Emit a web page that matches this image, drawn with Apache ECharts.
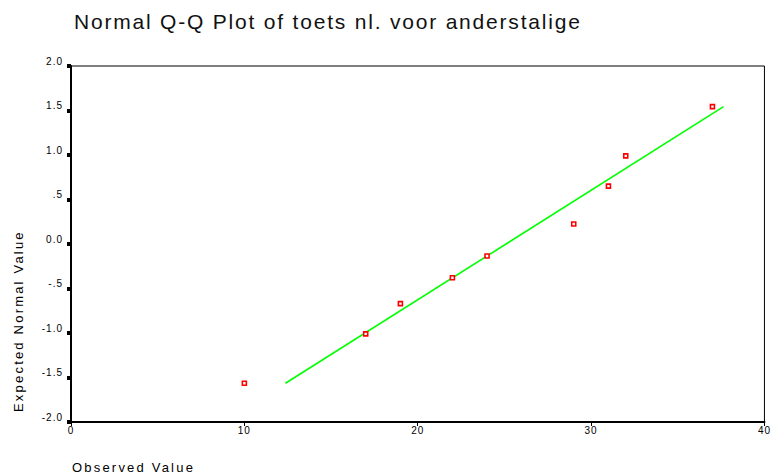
<!DOCTYPE html>
<html><head><meta charset="utf-8">
<script src="https://cdn.jsdelivr.net/npm/echarts@6/dist/echarts.min.js"></script>
<style>html,body{margin:0;padding:0;background:#fff}#c{width:773px;height:475px}</style>
</head><body><div id="c"></div>
<script>
const titleText = 'Normal Q-Q Plot of toets nl. voor anderstalige';
const xAxisName = 'Observed Value';
const yAxisName = 'Expected Normal Value';
const observed = [10, 17, 19, 22, 24, 29, 31, 32, 37];
const expected = [-1.565, -1.01, -0.67, -0.38, -0.135, 0.225, 0.65, 0.99, 1.543];
const lineObserved = [12.37, 37.64];
const lineExpected = [-1.565, 1.543];
const yTicks = [-2, -1.5, -1, -0.5, 0, 0.5, 1, 1.5, 2];
const yTickLabels = ['-2.0', '-1.5', '-1.0', '-.5', '0.0', '.5', '1.0', '1.5', '2.0'];

const FONT = '"Liberation Sans", Arial, sans-serif';
const chart = echarts.init(document.getElementById('c'), null, {renderer: 'svg'});
chart.setOption({
  animation: false,
  backgroundColor: '#fff',
  grid: {left: 71, right: 7, top: 66, bottom: 53, show: true, borderColor: '#000', borderWidth: 1, backgroundColor: 'transparent'},
  xAxis: {
    type: 'value', min: 0, max: 40, interval: 10,
    axisLine: {show: true, onZero: false, lineStyle: {color: '#000', width: 2}},
    axisTick: {show: true, inside: false, length: 4, lineStyle: {color: '#000', width: 1}},
    axisLabel: {show: true, margin: 3, fontSize: 10, fontFamily: FONT, color: '#000', showMinLabel: true, showMaxLabel: true},
    splitLine: {show: false}
  },
  yAxis: {
    type: 'value', min: -2, max: 2, interval: 0.5,
    axisLine: {show: true, onZero: false, lineStyle: {color: '#000', width: 2}},
    axisTick: {show: true, inside: false, length: 4, lineStyle: {color: '#000', width: 4}},
    axisLabel: {
      show: true, margin: 8, fontSize: 10, fontFamily: FONT, color: '#000', verticalAlign: 'bottom',
      showMinLabel: true, showMaxLabel: true,
      formatter: function (v) {
        const i = yTicks.findIndex(t => Math.abs(t - v) < 1e-9);
        return i >= 0 ? yTickLabels[i] : '';
      }
    },
    splitLine: {show: false}
  },
  graphic: [
    {type: 'text', x: 74, y: 21, style: {text: titleText, font: '21px ' + FONT, fill: '#111', textAlign: 'left', textVerticalAlign: 'middle', align: 'left', verticalAlign: 'middle'}},
    {type: 'text', x: 72, y: 467, style: {text: xAxisName, font: '13px ' + FONT, fill: '#000', textAlign: 'left', textVerticalAlign: 'middle', align: 'left', verticalAlign: 'middle'}},
    {type: 'text', x: 18, y: 412, rotation: Math.PI / 2, style: {text: yAxisName, font: '13px ' + FONT, fill: '#000', textAlign: 'left', textVerticalAlign: 'middle', align: 'left', verticalAlign: 'middle'}}
  ],
  series: [
    {
      type: 'line', data: lineObserved.map((x, i) => [x, lineExpected[i]]),
      showSymbol: false, symbol: 'none', lineStyle: {color: '#00ff00', width: 1.6}, z: 2, silent: true
    },
    {
      type: 'scatter', data: observed.map((x, i) => [x, expected[i]]),
      symbol: 'rect', symbolSize: 4,
      itemStyle: {color: '#fff', borderColor: '#ff0000', borderWidth: 1.6, opacity: 1}, z: 3
    }
  ]
});

function spaceText() {
  document.querySelectorAll('#c svg text').forEach(t => {
    const fs = parseFloat(getComputedStyle(t).fontSize) || 12;
    const ls = fs >= 18 ? 1.8 : (fs >= 12 ? 2.2 : 1.0);
    t.setAttribute('letter-spacing', ls);
    t.style.letterSpacing = ls + 'px';
  });
}
spaceText();
chart.on('finished', spaceText);
</script>
</body></html>
